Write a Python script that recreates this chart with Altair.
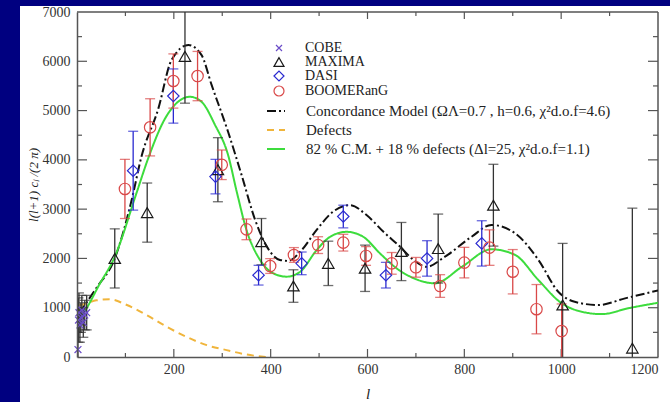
import altair as alt
import pandas as pd

# ---------------- data ----------------
surveys = ["COBE", "MAXIMA", "DASI", "BOOMERanG"]

cobe_l = [2, 3, 4, 6, 8, 10, 13, 16, 20]
cobe_v = [150, 750, 900, 650, 800, 950, 700, 850, 900]
cobe_e = [700, 450, 400, 350, 300, 300, 300, 300, 350]

maxima_l = [78, 145, 223, 291, 381, 447, 519, 595, 670, 746, 860, 1003, 1147]
maxima_v = [2000, 2930, 6100, 3800, 2340, 1440, 1900, 1800, 2140, 2200, 3080, 1055, 180]
maxima_e = [600, 600, 950, 650, 470, 330, 450, 470, 590, 700, 830, 1250, 2840]

dasi_l = [116, 199, 286, 375, 464, 550, 638, 723, 836]
dasi_v = [3780, 5295, 3660, 1660, 1900, 2850, 1660, 2000, 2305]
dasi_e = [800, 550, 350, 200, 230, 230, 260, 360, 460]

boom_l = [99, 151, 199, 249, 299, 350, 399, 448, 498, 550, 597, 650, 700, 750, 800, 852, 900, 949, 1001]
boom_v = [3410, 4660, 5600, 5700, 3900, 2590, 1846, 2070, 2270, 2320, 2050, 1900, 1820, 1440, 1915, 2220, 1730, 970, 527]
boom_e = [600, 580, 550, 500, 300, 210, 150, 150, 170, 170, 190, 220, 200, 230, 310, 360, 450, 500, 550]

conc_name = "Concordance Model (ΩΛ=0.7 , h=0.6, χ²d.o.f=4.6)"
def_name = "Defects"
mix_name = "82 % C.M. + 18 % defects (Δl=25, χ²d.o.f=1.1)"
curve_names = [conc_name, def_name, mix_name]

conc_l = [5, 40, 78, 113, 133, 168, 195, 230, 257, 278, 312, 340, 368, 392, 419, 436, 464, 495, 529, 564,
          598, 633, 667, 695, 722, 760, 815, 856, 905, 953, 994, 1028, 1077, 1132, 1200]
conc_v = [900, 1400, 2000, 3190, 4060, 5040, 6020, 6330, 6130, 5520, 4570, 3690, 2780, 2240, 1970, 1950, 2170,
          2580, 2950, 3080, 2880, 2540, 2240, 1970, 1830, 2035, 2440, 2680, 2510, 1970, 1325, 1120, 1055, 1190, 1350]

mix_l = [5, 17, 45, 78, 123, 147, 182, 209, 233, 257, 285, 312, 330, 350, 378, 405, 433, 461, 495, 523, 557,
         591, 626, 660, 695, 739, 795, 856, 905, 953, 1001, 1042, 1084, 1139, 1200]
mix_v = [800, 950, 1450, 2035, 3330, 4030, 4840, 5180, 5280, 5180, 4710, 4100, 3350, 2580, 1970, 1700, 1630,
         1730, 2170, 2440, 2540, 2440, 2100, 1800, 1600, 1495, 1830, 2185, 2070, 1560, 1090, 920, 870, 990, 1100]

def_l = [5, 17, 40, 68, 103, 144, 185, 226, 268, 309, 350, 392]
def_v = [1050, 1080, 1150, 1170, 1055, 850, 615, 410, 240, 140, 50, 0]

x_label_values = [200, 400, 600, 800, 1000, 1200]
y_label_values = [0, 1000, 2000, 3000, 4000, 5000, 6000, 7000]
x_major = [200, 400, 600, 800, 1000]
x_minor = [100, 300, 500, 700, 900, 1100]
y_major = [1000, 2000, 3000, 4000, 5000, 6000]
y_minor = [500, 1500, 2500, 3500, 4500, 5500, 6500]

# ---------------- styling ----------------
W, H = 581, 345
FONT = "Liberation Serif"
survey_colors = ["#6a4cc8", "#1a1a1a", "#2a2ad0", "#d94848"]
bar_colors = ["#333333", "#333333", "#2a2ad0", "#d94848"]
survey_shapes = ["M-0.6,-0.6L0.6,0.6M0.6,-0.6L-0.6,0.6", "triangle-up", "diamond", "circle"]
curve_colors = ["#111111", "#f0b53c", "#3ddc3d"]
curve_dashes = [[9, 3, 2, 3], [7, 5], [1, 0]]
curve_widths = [2, 2, 3]
TICK = "#555555"

# ---------------- tables ----------------
rows = []
for name, ls, vs, es in [("COBE", cobe_l, cobe_v, cobe_e), ("MAXIMA", maxima_l, maxima_v, maxima_e),
                         ("DASI", dasi_l, dasi_v, dasi_e), ("BOOMERanG", boom_l, boom_v, boom_e)]:
    for l, v, e in zip(ls, vs, es):
        rows.append({"survey": name, "l": l, "v": v, "lo": v - e, "hi": v + e})
pts = pd.DataFrame(rows)
caps_lo = pts[(pts["lo"] > 0) & (pts["lo"] < 7000)][["survey", "l", "lo"]].rename(columns={"lo": "c"})
caps_hi = pts[(pts["hi"] > 0) & (pts["hi"] < 7000)][["survey", "l", "hi"]].rename(columns={"hi": "c"})
caps = pd.concat([caps_lo, caps_hi])

crow = []
for name, ls, vs in [(conc_name, conc_l, conc_v), (def_name, def_l, def_v), (mix_name, mix_l, mix_v)]:
    for i, (l, v) in enumerate(zip(ls, vs)):
        crow.append({"model": name, "l": l, "v": v, "i": i})
curves = pd.DataFrame(crow)

xs = alt.Scale(domain=[0, 1200], nice=False, zero=False)
ys = alt.Scale(domain=[0, 7000], nice=False, zero=False)

one = pd.DataFrame({"k": [0]})

backdrop = alt.Chart(one).mark_rect(color="white").encode(
    x=alt.value(-57), x2=alt.value(W + 20), y=alt.value(-6), y2=alt.value(H + 50))

sc_color = alt.Scale(domain=surveys, range=survey_colors)
sc_bar = alt.Scale(domain=surveys, range=bar_colors)

x_axis = alt.Axis(values=x_label_values, format="d", title="l", titleFontStyle="italic", titleFont=FONT,
                  titleFontSize=15, titleFontWeight="normal", titlePadding=10, labelPadding=5, zindex=2,
                  ticks=False, grid=False, labelFont=FONT, labelFontSize=14, labelColor="#333333",
                  domainColor=TICK, domainWidth=1.5)
y_axis = alt.Axis(values=y_label_values, format="d", title="l(l+1) cₗ /(2 π)", titleFontStyle="italic",
                  titleFont=FONT, titleFontSize=13, titleFontWeight="normal", titlePadding=2, labelPadding=7,
                  zindex=2, ticks=False, grid=False, labelFont=FONT, labelFontSize=14, labelColor="#333333",
                  domainColor=TICK, domainWidth=1.5)

curve_layer = alt.Chart(curves).mark_line(interpolate="monotone", clip=True).encode(
    x=alt.X("l:Q", scale=xs, axis=x_axis),
    y=alt.Y("v:Q", scale=ys, axis=y_axis),
    color=alt.Color("model:N", scale=alt.Scale(domain=curve_names, range=curve_colors),
                    legend=alt.Legend(title=None, orient="none", legendX=189, legendY=89, symbolType="stroke",
                                      symbolSize=324, symbolStrokeWidth=2, labelFont=FONT, labelFontSize=15,
                                      labelColor="#222", labelOffset=20, rowPadding=1, labelLimit=500,
                                      padding=0)),
    strokeDash=alt.StrokeDash("model:N", scale=alt.Scale(domain=curve_names, range=curve_dashes)),
    strokeWidth=alt.StrokeWidth("model:N", scale=alt.Scale(domain=curve_names, range=curve_widths), legend=None),
    order="i:Q",
)

bars = alt.Chart(pts).mark_rule(strokeWidth=1.3, clip=True).encode(
    x=alt.X("l:Q", scale=xs), y=alt.Y("lo:Q", scale=ys), y2="hi:Q",
    color=alt.Color("survey:N", scale=sc_bar, legend=None))

cap_layer = alt.Chart(caps).mark_tick(orient="horizontal", size=10, thickness=1.3, clip=True).encode(
    x=alt.X("l:Q", scale=xs), y=alt.Y("c:Q", scale=ys),
    color=alt.Color("survey:N", scale=sc_bar, legend=None))

point_layer = alt.Chart(pts).mark_point(filled=False, strokeWidth=1.2, opacity=1, size=130).encode(
    x=alt.X("l:Q", scale=xs), y=alt.Y("v:Q", scale=ys),
    color=alt.Color("survey:N", scale=sc_color,
                    legend=alt.Legend(title=None, orient="none", legendX=195, legendY=29, symbolSize=100,
                                      symbolStrokeWidth=1.2, labelFont=FONT, labelFontSize=14,
                                      labelColor="#222", labelOffset=19, rowPadding=-1.3, padding=0)),
    shape=alt.Shape("survey:N", scale=alt.Scale(domain=surveys, range=survey_shapes)),
)

tx_major = pd.DataFrame({"t": x_major})
tx_minor = pd.DataFrame({"t": x_minor})
ty_major = pd.DataFrame({"t": y_major})
ty_minor = pd.DataFrame({"t": y_minor})

def xticks(df, y0, y1):
    return alt.Chart(df).mark_rule(color=TICK, strokeWidth=1.2).encode(
        x=alt.X("t:Q", scale=xs), y=alt.value(y0), y2=alt.value(y1))

def yticks(df, x0, x1):
    return alt.Chart(df).mark_rule(color=TICK, strokeWidth=1.2).encode(
        y=alt.Y("t:Q", scale=ys), x=alt.value(x0), x2=alt.value(x1))

frame_top = alt.Chart(one).mark_rule(color=TICK, strokeWidth=1.5).encode(
    x=alt.value(0), x2=alt.value(W), y=alt.value(0))
frame_right = alt.Chart(one).mark_rule(color=TICK, strokeWidth=1.5).encode(
    x=alt.value(W), y=alt.value(0), y2=alt.value(H))

chart = alt.layer(
    backdrop,
    xticks(tx_major, H, H - 8), xticks(tx_minor, H, H - 4),
    xticks(tx_major, 0, 7), xticks(tx_minor, 0, 4),
    yticks(ty_major, 0, 10), yticks(ty_minor, 0, 5),
    yticks(ty_major, W, W - 10), yticks(ty_minor, W, W - 5),
    frame_top, frame_right,
    curve_layer, bars, cap_layer, point_layer,
).resolve_scale(
    color="independent", shape="independent", strokeDash="independent",
    strokeWidth="independent",
).properties(
    width=W, height=H,
    autosize=alt.AutoSizeParams(type="none"),
    padding={"left": 77, "top": 12, "right": 12, "bottom": 45},
    background="#000080",
).configure_view(stroke=None).configure_axis(
    labelFont=FONT, labelFontSize=14, labelColor="#333333", domainColor=TICK, domainWidth=1.5,
    ticks=False, grid=False, titleColor="#222222",
)

chart.save("out.html", embed_options={"renderer": "svg", "actions": False})
